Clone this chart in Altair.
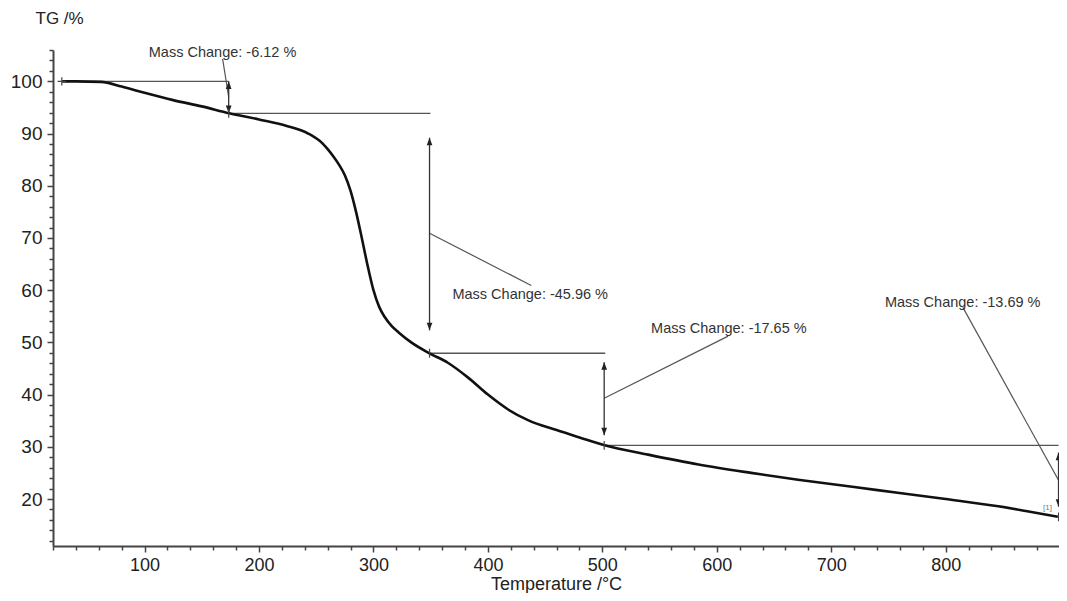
import altair as alt
import pandas as pd

# ---- data ----
T_VALUES = [28, 40, 62, 80, 100, 125, 150, 174, 200, 225, 243, 255, 260, 265, 270, 275,
            280, 285, 290, 295, 300, 305, 310, 316, 322, 333, 349, 365, 383, 400, 418,
            435, 460, 480, 502, 540, 584, 630, 671, 720, 758, 800, 846, 870, 898]
TG_VALUES = [100.0, 100.0, 99.9, 99.0, 97.8, 96.4, 95.2, 93.9, 92.7, 91.4, 90.0, 88.2,
             87.0, 85.6, 84.0, 82.0, 79.0, 74.8, 69.8, 64.6, 60.0, 56.8, 54.8, 53.1,
             51.9, 50.0, 47.9, 46.1, 43.2, 40.0, 37.1, 35.1, 33.2, 31.8, 30.3, 28.5,
             26.6, 25.0, 23.7, 22.3, 21.2, 20.0, 18.6, 17.7, 16.6]

# step-level horizontal lines
H_X = [27.7, 173.5, 349.0, 501.6]
H_X2 = [173.5, 349.8, 502.5, 898.6]
H_Y = [100.0, 93.88, 47.92, 30.27]

# vertical double arrows
ARROW_X = [173.5, 349.0, 501.6, 898.6]
ARROW_TOP = [100.0, 89.2, 46.2, 28.9]
ARROW_BOTTOM = [93.9, 52.3, 32.2, 18.5]

# leader lines from arrows to labels
LEADER_X = [173.5, 349.0, 501.6, 898.6]
LEADER_Y = [97.0, 70.9, 39.3, 23.6]
LEADER_X2 = [168.2, 437.9, 609.9, 815.0]
LEADER_Y2 = [104.3, 60.9, 51.2, 56.7]

# labels
LABEL_X = [103.7, 369.0, 542.6, 746.9]
LABEL_Y = [105.5, 59.0, 52.5, 57.5]
LABEL_TEXT = ["Mass Change: -6.12 %", "Mass Change: -45.96 %",
              "Mass Change: -17.65 %", "Mass Change: -13.69 %"]

# step markers crossing the curve
MARK_X = [173.5, 349.0, 501.6, 898.6]
MARK_Y = [93.88, 47.92, 30.27, 16.58]
START_X = [27.7]
START_Y = [100.0]

SEG_LABEL_X = [889.0]
SEG_LABEL_Y = [18.2]
SEG_LABEL_TEXT = ["[1]"]

X_TICKS = list(range(20, 900, 20))
Y_TICKS = list(range(12, 107, 2))

FONT = "Liberation Sans"
X_DOMAIN = [20, 899]
Y_DOMAIN = [11, 106]

curve_df = pd.DataFrame({"T": T_VALUES, "TG": TG_VALUES})
h_df = pd.DataFrame({"x": H_X, "x2": H_X2, "y": H_Y})
a_df = pd.DataFrame({"x": ARROW_X, "y": ARROW_TOP, "y2": ARROW_BOTTOM})
l_df = pd.DataFrame({"x": LEADER_X, "y": LEADER_Y, "x2": LEADER_X2, "y2": LEADER_Y2})
t_df = pd.DataFrame({"x": LABEL_X, "y": LABEL_Y, "text": LABEL_TEXT})
m_df = pd.DataFrame({"x": MARK_X, "y": MARK_Y})
s_df = pd.DataFrame({"x": START_X, "y": START_Y})
seg_df = pd.DataFrame({"x": SEG_LABEL_X, "y": SEG_LABEL_Y, "text": SEG_LABEL_TEXT})
up_df = pd.DataFrame({"x": ARROW_X, "y": ARROW_TOP})
dn_df = pd.DataFrame({"x": ARROW_X, "y": ARROW_BOTTOM})

x_scale = alt.Scale(domain=X_DOMAIN, nice=False, zero=False)
y_scale = alt.Scale(domain=Y_DOMAIN, nice=False, zero=False)

x_axis = alt.Axis(
    title="Temperature /°C",
    values=X_TICKS,
    labelExpr="datum.value % 100 === 0 ? datum.label : ''",
    labelOverlap=False,
    tickSize={"condition": {"test": "datum.value % 100 === 0", "value": 6}, "value": 4},
    grid=False,
    labelPadding=4,
    labelFontSize=18,
    titlePadding=1,
    titleFontSize=18,
)
y_axis = alt.Axis(
    title="TG /%",
    values=Y_TICKS,
    labelExpr="datum.value % 10 === 0 ? datum.label : ''",
    labelOverlap=False,
    tickSize={"condition": {"test": "datum.value % 10 === 0", "value": 6}, "value": 4},
    grid=False,
    labelPadding=5,
    titleAngle=0,
    titleAlign="left",
    titleBaseline="middle",
    titleX=-18,
    titleY=-32,
    titleFontSize=17,
)

X = lambda f="x": alt.X(f, type="quantitative", scale=x_scale, axis=x_axis)
Y = lambda f="y": alt.Y(f, type="quantitative", scale=y_scale, axis=y_axis)

LINE_COLOR = "#555555"

curve = alt.Chart(curve_df).mark_line(color="#111111", strokeWidth=2.6, interpolate="monotone").encode(
    x=X("T"), y=Y("TG"))

hlines = alt.Chart(h_df).mark_rule(color=LINE_COLOR, strokeWidth=1.3).encode(
    x=X(), x2="x2", y=Y())

arrows = alt.Chart(a_df).mark_rule(color="#333333", strokeWidth=1.3).encode(
    x=X(), y=Y(), y2="y2")

leaders = alt.Chart(l_df).mark_rule(color=LINE_COLOR, strokeWidth=1.2).encode(
    x=X(), y=Y(), x2="x2", y2="y2")

up_heads = alt.Chart(up_df).mark_point(
    shape="M0,0L-0.6,1.6L0.6,1.6Z", filled=True, color="#222222", size=90, opacity=1
).encode(x=X(), y=Y())
dn_heads = alt.Chart(dn_df).mark_point(
    shape="M0,0L-0.6,-1.6L0.6,-1.6Z", filled=True, color="#222222", size=90, opacity=1
).encode(x=X(), y=Y())

markers = alt.Chart(m_df).mark_point(
    shape="M0,-1L0,1", filled=False, color="#444444", size=80, strokeWidth=1.2, opacity=1
).encode(x=X(), y=Y())
start = alt.Chart(s_df).mark_point(
    shape="M0,-1L0,1M-1,0L1,0", filled=False, color="#444444", size=70, strokeWidth=1.2, opacity=1
).encode(x=X(), y=Y())

labels = alt.Chart(t_df).mark_text(
    align="left", baseline="middle", font=FONT, fontSize=14.5, color="#333333"
).encode(x=X(), y=Y(), text="text:N")

seg_label = alt.Chart(seg_df).mark_text(
    align="center", baseline="middle", font=FONT, fontSize=8, color="#777777"
).encode(x=X(), y=Y(), text="text:N")

chart = alt.layer(
    hlines, leaders, arrows, up_heads, dn_heads, curve, markers, start, labels, seg_label
).properties(
    width=1006,
    height=496,
    autosize=alt.AutoSizeParams(type="none"),
    padding={"left": 45, "top": 42, "right": 0, "bottom": 47},
    background="white",
).configure_view(
    stroke=None
).configure_axis(
    domainColor="#444444",
    domainWidth=2,
    tickColor="#444444",
    tickWidth=1.5,
    labelFont=FONT,
    labelFontSize=19,
    labelColor="#222222",
    titleFont=FONT,
    titleFontSize=19,
    titleFontWeight="normal",
    titleColor="#222222",
)

chart.save("out.html", embed_options={"renderer": "svg", "actions": False})
